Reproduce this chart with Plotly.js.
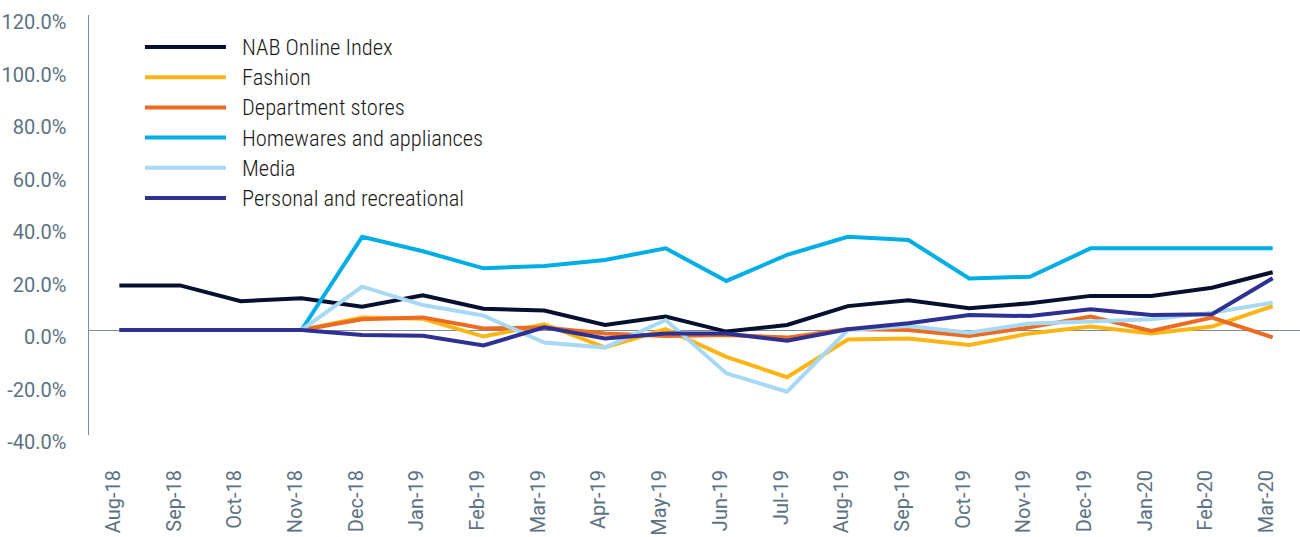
<!DOCTYPE html>
<html>
<head>
<meta charset="utf-8">
<script src="https://cdn.plot.ly/plotly-3.0.1.min.js"></script>
<style>
html,body{margin:0;padding:0;background:#fff;}
#chart{width:1300px;height:537px;}
#chart .annotation-text{font-stretch:75% !important;}
</style>
</head>
<body>
<div id="chart"></div>
<script>
const months = ["Aug-18","Sep-18","Oct-18","Nov-18","Dec-18","Jan-19","Feb-19","Mar-19","Apr-19","May-19","Jun-19","Jul-19","Aug-19","Sep-19","Oct-19","Nov-19","Dec-19","Jan-20","Feb-20","Mar-20"];

const nabOnlineIndex = [17.0,17.0,11.0,12.1,8.9,13.2,8.1,7.4,1.9,5.1,-0.6,1.9,9.1,11.3,8.3,10.2,13.0,13.0,16.1,22.0];
const fashion        = [0,0,0,0,4.8,4.3,-2.5,2.2,-6.6,0.3,-10.2,-18.0,-3.6,-3.2,-5.7,-1.3,1.3,-1.3,1.3,9.1];
const departmentStores = [0,0,0,0,4.1,4.8,0.6,1.0,-1.3,-2.3,-1.9,-2.9,0.4,0.0,-2.3,1.0,5.1,-0.4,4.7,-2.8];
const homewares      = [0,0,0,0,35.5,30.0,23.5,24.4,26.7,31.1,18.7,28.6,35.5,34.3,19.6,20.3,31.1,31.1,31.1,31.1];
const media          = [0,0,0,0,16.5,9.5,5.5,-4.8,-6.7,3.8,-16.5,-23.5,0.0,1.5,-1.0,2.5,3.2,4.1,6.6,10.4];
const personalRec    = [0,0,0,0,-1.9,-2.2,-5.9,1.0,-3.2,-1.3,-1.3,-4.1,0.3,2.6,5.7,5.3,7.9,5.7,6.0,19.7];

const seriesNames  = ["NAB Online Index","Fashion","Department stores","Homewares and appliances","Media","Personal and recreational"];
const seriesValues = [nabOnlineIndex, fashion, departmentStores, homewares, media, personalRec];
const seriesColors = ["#07102f","#fdb515","#ea6b21","#00aee6","#a7d9f4","#2e3192"];

const yTickVals = [-40,-20,0,20,40,60,80,100,120];
const yTickText = yTickVals.map(v => v.toFixed(1) + "%");

const FONT = "Roboto, 'Open Sans', sans-serif";
const AXIS_GREY = "#7d8b96";
const LABEL_GREY = "#5c7283";

const traces = seriesNames.map((name, i) => ({
  type: "scatter",
  mode: "lines",
  name: name,
  x: months,
  y: seriesValues[i],
  line: {color: seriesColors[i], width: 4},
  hoverinfo: "x+y+name"
}));

// custom legend (long line samples as in the reference)
const shapes = [];
const annotations = [];
const legX0 = 0.0462, legX1 = 0.1131, legTextX = 0.1255, legY0 = 0.9238, legStep = 0.0719;
seriesNames.forEach((name, i) => {
  const yy = legY0 - i * legStep;
  shapes.push({type: "line", xref: "paper", yref: "paper", x0: legX0, x1: legX1, y0: yy, y1: yy,
               line: {color: seriesColors[i], width: 4}});
  annotations.push({xref: "paper", yref: "paper", x: legTextX, y: yy, text: name, showarrow: false,
                    xanchor: "left", yanchor: "middle", align: "left", borderpad: 0,
                    font: {family: FONT, size: 22.5, color: "#1a1a1a", weight: 300}});
});

const layout = {
  width: 1300, height: 537,
  margin: {l: 89, r: 0, t: 15, b: 102},
  paper_bgcolor: "#fff", plot_bgcolor: "#fff",
  showlegend: false,
  font: {family: FONT, color: LABEL_GREY},
  xaxis: {
    type: "category",
    range: [-0.5, 19.45],
    showgrid: false, zeroline: false, showline: false,
    tickangle: -90,
    tickfont: {family: FONT, size: 20, color: LABEL_GREY},
    ticks: "",
    ticklabelstandoff: 30,
    ticklabelshift: -6
  },
  yaxis: {
    range: [-40, 120],
    tickvals: yTickVals,
    ticktext: yTickText,
    showgrid: false,
    zeroline: true, zerolinecolor: AXIS_GREY, zerolinewidth: 1,
    showline: true, linecolor: AXIS_GREY, linewidth: 1.5,
    ticks: "",
    tickfont: {family: FONT, size: 20, color: LABEL_GREY},
    ticklabelstandoff: 17,
    ticklabelshift: 7
  },
  shapes: shapes,
  annotations: annotations
};

Plotly.newPlot("chart", traces, layout, {displayModeBar: false, staticPlot: true});
</script>
</body>
</html>
